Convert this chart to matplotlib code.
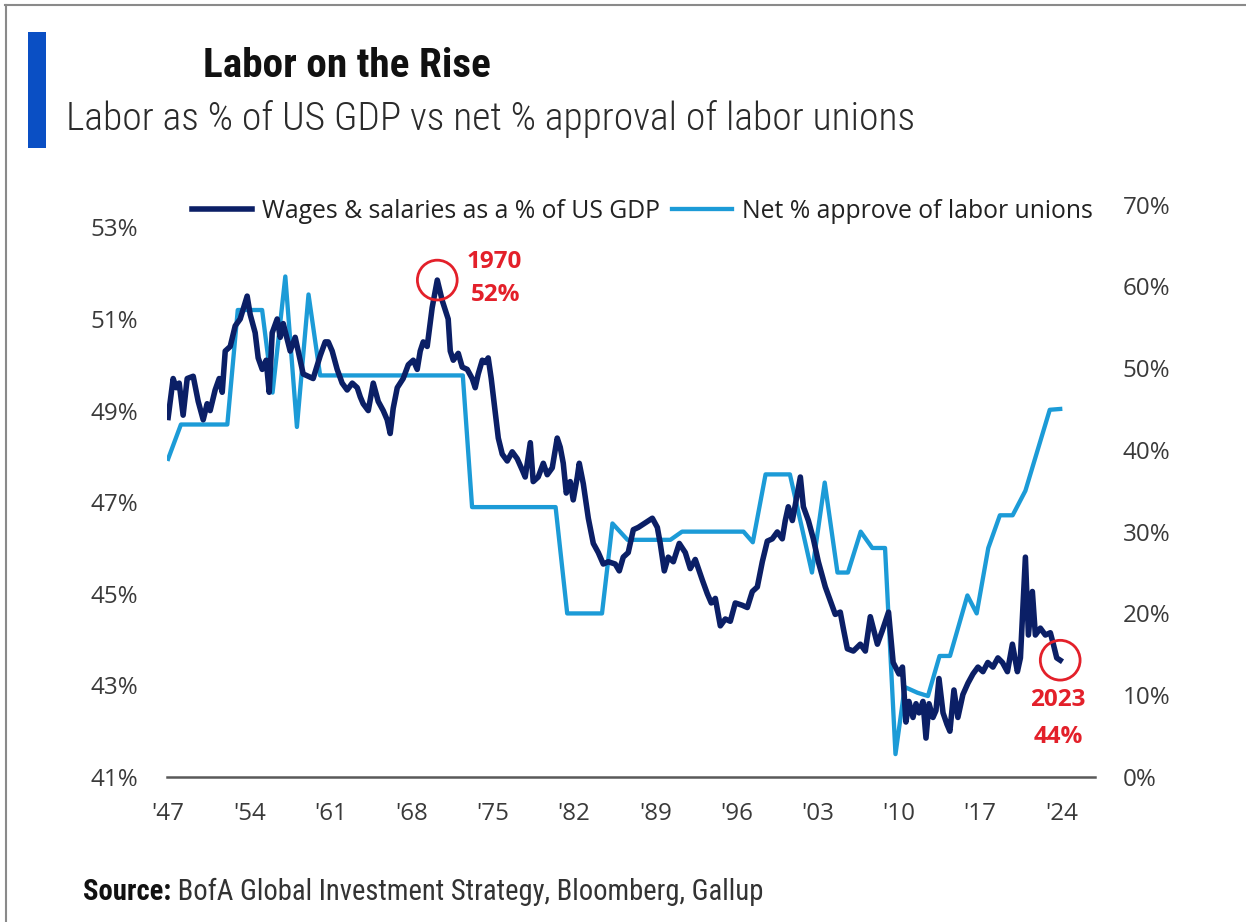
import matplotlib
matplotlib.use("Agg")
import matplotlib.pyplot as plt
from matplotlib.lines import Line2D
from matplotlib.patches import Rectangle
import numpy as np

# Wages & salaries as a % of US GDP (left axis)
wage_years = [
    1947.0, 1947.43, 1947.69, 1947.95, 1948.29, 1948.64, 1949.16, 1949.59, 1950.02, 1950.36,
    1950.62, 1951.05, 1951.40, 1951.66, 1951.92, 1952.35, 1952.78, 1953.21, 1953.81, 1954.07,
    1954.50, 1954.76, 1955.11, 1955.45, 1955.71, 1955.97, 1956.40, 1956.66, 1956.92, 1957.52,
    1957.95, 1958.38, 1958.64, 1959.07, 1959.50, 1960.11, 1960.54, 1960.80, 1961.14, 1961.57,
    1962.00, 1962.43, 1962.87, 1963.30, 1963.56, 1963.81, 1964.25, 1964.68, 1965.11, 1965.54,
    1965.88, 1966.14, 1966.40, 1966.75, 1967.26, 1967.70, 1968.13, 1968.47, 1968.73, 1968.99,
    1969.33, 1969.76, 1970.20, 1970.63, 1970.89, 1971.14, 1971.32, 1971.58, 1972.01, 1972.35,
    1972.78, 1973.21, 1973.47, 1973.73, 1974.08, 1974.33, 1974.59, 1974.85, 1975.11, 1975.46,
    1975.80, 1976.23, 1976.66, 1977.09, 1977.53, 1977.78, 1978.22, 1978.47, 1978.90, 1979.34,
    1979.68, 1980.11, 1980.54, 1980.80, 1981.06, 1981.32, 1981.66, 1981.92, 1982.27, 1982.44,
    1982.79, 1983.22, 1983.65, 1984.08, 1984.51, 1984.94, 1985.54, 1985.89, 1986.23, 1986.66,
    1987.10, 1987.53, 1988.13, 1988.74, 1989.17, 1989.42, 1989.77, 1990.11, 1990.55, 1991.06,
    1991.58, 1992.01, 1992.44, 1993.05, 1993.48, 1993.82, 1994.17, 1994.60, 1995.03, 1995.46,
    1995.89, 1996.49, 1996.93, 1997.36, 1997.79, 1998.22, 1998.65, 1999.08, 1999.51, 1999.94,
    2000.20, 2000.46, 2000.81, 2001.07, 2001.50, 2001.76, 2002.19, 2002.62, 2003.05, 2003.65,
    2004.08, 2004.51, 2004.94, 2005.20, 2005.55, 2006.07, 2006.67, 2007.10, 2007.53, 2008.14,
    2008.57, 2009.10, 2009.50, 2010.00, 2010.30, 2010.60, 2010.86, 2011.21, 2011.47, 2011.73,
    2012.07, 2012.33, 2012.59, 2012.93, 2013.19, 2013.45, 2013.80, 2014.14, 2014.39, 2014.74,
    2015.08, 2015.51, 2015.95, 2016.38, 2016.81, 2017.24, 2017.66, 2018.10, 2018.53, 2018.92,
    2019.35, 2019.78, 2020.21, 2020.47, 2020.90, 2021.16, 2021.50, 2021.76, 2022.19, 2022.62,
    2023.05, 2023.31, 2023.60, 2023.90,
]
wage_share = [
    48.85, 49.70, 49.50, 49.60, 48.90, 49.70, 49.75, 49.20, 48.80, 49.15,
    49.00, 49.45, 49.70, 49.40, 50.30, 50.40, 50.85, 51.00, 51.50, 51.10,
    50.70, 50.15, 49.90, 50.10, 49.40, 50.70, 51.00, 50.60, 50.90, 50.30,
    50.60, 50.10, 49.80, 49.75, 49.70, 50.20, 50.50, 50.50, 50.30, 49.90,
    49.60, 49.45, 49.60, 49.50, 49.30, 49.15, 49.00, 49.60, 49.20, 49.00,
    48.80, 48.50, 49.05, 49.50, 49.70, 50.00, 50.10, 49.90, 50.30, 50.50,
    50.40, 51.25, 51.85, 51.40, 51.20, 51.00, 50.30, 50.10, 50.25, 49.95,
    49.90, 49.70, 49.50, 49.80, 50.10, 50.05, 50.15, 49.70, 49.15, 48.40,
    48.05, 47.90, 48.10, 47.95, 47.70, 47.55, 48.30, 47.45, 47.55, 47.85,
    47.60, 47.75, 48.40, 48.20, 47.85, 47.20, 47.45, 47.05, 47.55, 47.85,
    47.40, 46.65, 46.10, 45.90, 45.65, 45.70, 45.65, 45.50, 45.80, 45.90,
    46.40, 46.45, 46.55, 46.65, 46.45, 46.10, 45.50, 45.80, 45.70, 46.10,
    45.90, 45.55, 45.75, 45.30, 45.00, 44.80, 44.90, 44.30, 44.45, 44.40,
    44.80, 44.75, 44.70, 45.05, 45.15, 45.70, 46.15, 46.20, 46.35, 46.20,
    46.60, 46.90, 46.60, 46.95, 47.55, 46.90, 46.60, 46.20, 45.70, 45.15,
    44.85, 44.55, 44.60, 44.25, 43.80, 43.75, 43.90, 43.75, 44.50, 43.90,
    44.20, 44.60, 43.50, 43.25, 43.40, 42.20, 42.65, 42.30, 42.60, 42.40,
    42.65, 41.85, 42.60, 42.30, 42.45, 43.15, 42.40, 42.15, 42.00, 42.90,
    42.30, 42.80, 43.05, 43.25, 43.40, 43.30, 43.50, 43.40, 43.60, 43.50,
    43.30, 43.90, 43.30, 43.60, 45.80, 44.10, 45.05, 44.10, 44.25, 44.10,
    44.15, 43.90, 43.60, 43.55,
]

# Net % approve of labor unions (right axis)
union_years = [
    1947.0, 1948.1, 1952.1, 1953.0, 1955.1, 1956.0, 1957.1, 1958.1, 1959.1, 1960.1,
    1972.4, 1973.2, 1980.4, 1981.4, 1984.4, 1985.3, 1986.6, 1990.3, 1991.3, 1996.6,
    1997.4, 1998.5, 2000.6, 2002.5, 2003.6, 2004.7, 2005.6, 2006.7, 2007.7, 2008.8,
    2009.7, 2010.5, 2011.6, 2012.5, 2013.5, 2014.4, 2015.9, 2016.7, 2017.7, 2018.7,
    2019.8, 2020.9, 2023.0, 2023.9,
]
union_net = [
    38.9, 43.1, 43.1, 57.1, 57.1, 47.0, 61.2, 42.8, 59.0, 49.1,
    49.1, 33.0, 33.0, 20.0, 20.0, 31.0, 29.0, 29.0, 30.0, 30.0,
    28.7, 37.0, 37.0, 25.0, 36.0, 25.0, 25.0, 30.0, 28.0, 28.0,
    2.8, 11.0, 10.3, 9.9, 14.8, 14.8, 22.2, 20.0, 28.0, 32.0,
    32.0, 35.0, 44.9, 45.0,
]

left_ticks = [41, 43, 45, 47, 49, 51, 53]
right_ticks = [0, 10, 20, 30, 40, 50, 60, 70]
year_ticks = [1947, 1954, 1961, 1968, 1975, 1982, 1989, 1996, 2003, 2010, 2017, 2024]

W, H = 1246, 922
NAVY = "#0B1F66"
SKY = "#1C9BD7"
RED = "#E3202A"
BAR = "#0A4FC4"
TICK_TXT = "#3A3A3A"

plt.rcParams["font.family"] = ["Open Sans", "DejaVu Sans"]
# condensed faces for the header and footer, first installed one wins
NARROW = ["Roboto Condensed", "Archivo Narrow", "Asap Condensed",
          "Liberation Sans Narrow", "Open Sans", "DejaVu Sans"]


def fx(px):
    return px / W


def fy(py):
    return 1 - py / H


fig = plt.figure(figsize=(W / 100, H / 100), dpi=100)
fig.patch.set_facecolor("white")
renderer = fig.canvas.get_renderer()


def fit_width(texts, target_px, base=20.0):
    """Scale a group of texts so their combined width is target_px."""
    total = sum(t.get_window_extent(renderer=renderer).width for t in texts)
    for t in texts:
        t.set_fontsize(base * target_px / total)


# plot area
ax = fig.add_axes([fx(167), fy(777), (1095 - 167) / W, (777 - 204.5) / H])
ax2 = ax.twinx()
ax.set_zorder(ax2.get_zorder() + 1)
ax.patch.set_visible(False)

(l_union,) = ax2.plot(union_years, union_net, color=SKY, lw=3.1,
                      label="Net % approve of labor unions")
(l_wage,) = ax.plot(wage_years, wage_share, color=NAVY, lw=4.0,
                    label="Wages & salaries as a % of US GDP")

ax.set_xlim(1946.9, 2026.9)
ax.set_ylim(41, 53.5)
ax2.set_ylim(0, 70)

ax.set_xticks(year_ticks)
ax.set_xticklabels([f"'{y % 100:02d}" for y in year_ticks])
ax.set_yticks(left_ticks)
ax.set_yticklabels([f"{v}%" for v in left_ticks])
ax2.set_yticks(right_ticks)
ax2.set_yticklabels([f"{v}%" for v in right_ticks])

ax.tick_params(axis="x", length=0, pad=18, labelsize=17.4, labelcolor=TICK_TXT)
ax.tick_params(axis="y", length=0, pad=20.5, labelsize=17.4, labelcolor=TICK_TXT)
ax2.tick_params(axis="y", length=0, pad=20, labelsize=17.4, labelcolor=TICK_TXT)

for a in (ax, ax2):
    for side in ("top", "left", "right", "bottom"):
        a.spines[side].set_visible(False)
ax.spines["bottom"].set_visible(True)
ax.spines["bottom"].set_color("#595959")
ax.spines["bottom"].set_linewidth(1.8)

# legend across the top of the plot
fig.legend(handles=[l_wage, l_union], loc="center left",
           bbox_to_anchor=(fx(192), fy(211)), bbox_transform=fig.transFigure,
           ncol=2, frameon=False, fontsize=17.8, handlelength=2.43,
           handletextpad=0.4, columnspacing=0.49, borderpad=0, borderaxespad=0,
           labelcolor="#222222")

# highlight the peak and the latest reading
i_peak = int(np.argmax(wage_share))
marks = [
    (wage_years[i_peak], wage_share[i_peak], (57, 18), (58, -15)),
    (wage_years[-1], wage_share[-1], (-2, -40), (-2, -77)),
]
for xv, yv, off_year, off_val in marks:
    ax.scatter([xv], [yv], s=820, facecolors="none", edgecolors=RED,
               linewidths=2.0, zorder=6, clip_on=False)
    ax.annotate(f"{int(xv)}", xy=(xv, yv), xytext=off_year,
                textcoords="offset pixels", ha="center", va="center",
                color=RED, fontsize=17.5, fontweight="bold")
    ax.annotate(f"{yv:.0f}%", xy=(xv, yv), xytext=off_val,
                textcoords="offset pixels", ha="center", va="center",
                color=RED, fontsize=17.5, fontweight="bold")

# titles
title = fig.text(fx(203), fy(77), "Labor on the Rise", family=NARROW, fontsize=20,
                 fontweight="bold", color="#111111", va="baseline")
fit_width([title], 287)
subtitle = fig.text(fx(66), fy(130), "Labor as % of US GDP vs net % approval of labor unions",
                    family=NARROW, fontsize=20, fontweight="light", color="#2b2b2b",
                    va="baseline")
fit_width([subtitle], 847)

# accent bar and page frame
fig.add_artist(Rectangle((fx(28), fy(148)), (46 - 28) / W, (148 - 32) / H,
                         transform=fig.transFigure, color=BAR, lw=0))
fig.add_artist(Line2D([fx(5.5), fx(5.5)], [fy(5), fy(922)],
                      transform=fig.transFigure, color="#8a8a8a", lw=1.5))
fig.add_artist(Line2D([fx(5), 1], [fy(5), fy(5)],
                      transform=fig.transFigure, color="#8a8a8a", lw=1.5))

# source line: bold lead-in followed by the sources
src_head = fig.text(fx(83), fy(900), "Source:", family=NARROW, fontsize=20,
                    fontweight="bold", color="#111111", va="baseline")
src_body = fig.text(fx(83), fy(900), " BofA Global Investment Strategy, Bloomberg, Gallup",
                    family=NARROW, fontsize=20, color="#333333", va="baseline")
fit_width([src_head, src_body], 680)
head_bb = src_head.get_window_extent(renderer=renderer)
src_body.set_x(head_bb.x1 / W)

fig.savefig("out.png", dpi=100)
